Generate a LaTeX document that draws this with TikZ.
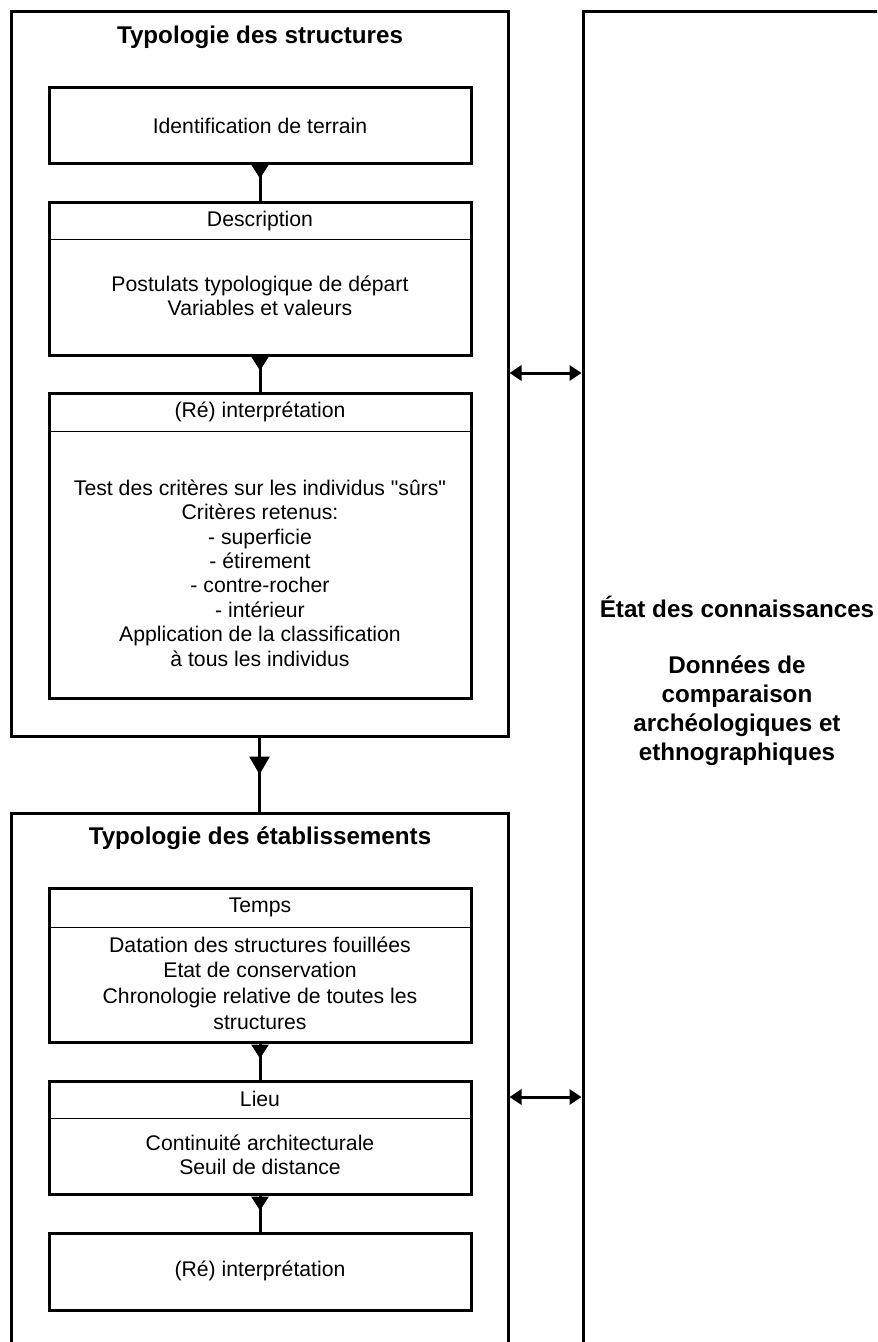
\documentclass[tikz,border=0pt]{standalone}
\usepackage{fontspec}
\setmainfont{Liberation Sans}
\usetikzlibrary{arrows.meta,fit}
\begin{document}
\begin{tikzpicture}[x=0.5pt,y=-0.5pt,
  frame/.style={draw,line width=1.5pt,inner sep=0pt},
  sep/.style={line width=0.5pt},
  bodytxt/.style={align=center,inner sep=0pt,font=\fontsize{10.6pt}{12.2pt}\selectfont},
  titletxt/.style={align=center,inner sep=0pt,font=\fontsize{12.1pt}{14.5pt}\selectfont\bfseries},
  conn/.style={line width=1.5pt},
  downtip/.style={line width=1.5pt,-{Triangle[width=8.5pt,length=7pt]}},
  bigtip/.style={line width=1.5pt,-{Triangle[width=10pt,length=9pt]}},
  dbl/.style={line width=1.5pt,{Triangle[width=7.5pt,length=6pt]}-{Triangle[width=7.5pt,length=6pt]}}
]
\useasboundingbox (0,0) rectangle (877,1342);
\clip (0,0) rectangle (877,1342);

% outer frames
\node[frame,fit={(11,12) (508,736)}] (ts) {};
\node[frame,fit={(11,813) (508,1380)}] (te) {};
\node[frame,fit={(583,12) (920,1380)}] (panel) {};

% titles
\node[titletxt] (t1) at (260,37) {Typologie des structures};
\node[titletxt] (t2) at (260,838) {Typologie des établissements};

% inner boxes, first frame
\node[frame,fit={(49,88) (471,164)}] (ident) {};
\node[bodytxt] (identt) at (260,126) {Identification de terrain};

\node[frame,fit={(49,203) (471,355)}] (desc) {};
\draw[sep] (desc.west |- 0,240) -- (desc.east |- 0,240);
\node[bodytxt] (desch) at (260,221.5) {Description};
\node[bodytxt] (descb) at (260,296) {Postulats typologique de départ\\Variables et valeurs};

\node[frame,fit={(49,393) (471,698)}] (interp) {};
\draw[sep] (interp.west |- 0,431) -- (interp.east |- 0,431);
\node[bodytxt] (interph) at (260,412) {(Ré) interprétation};
\node[bodytxt] (interpb) at (260,573) {Test des critères sur les individus \textquotedbl sûrs\textquotedbl\\Critères retenus:\\- superficie\\- étirement\\- contre-rocher\\- intérieur\\Application de la classification\\à tous les individus};

% inner boxes, second frame
\node[frame,fit={(49,888) (471,1042)}] (temps) {};
\draw[sep] (temps.west |- 0,927) -- (temps.east |- 0,927);
\node[bodytxt] (tempsh) at (260,907) {Temps};
\node[bodytxt,font=\fontsize{10.6pt}{12.8pt}\selectfont] (tempsb) at (260,983) {Datation des structures fouillées\\Etat de conservation\\Chronologie relative de toutes les\\structures};

\node[frame,fit={(49,1081) (471,1194)}] (lieu) {};
\draw[sep] (lieu.west |- 0,1118) -- (lieu.east |- 0,1118);
\node[bodytxt] (lieuh) at (260,1099) {Lieu};
\node[bodytxt] (lieub) at (260,1155) {Continuité architecturale\\Seuil de distance};

\node[frame,fit={(49,1233) (471,1310)}] (reint) {};
\node[bodytxt] (reintt) at (260,1271) {(Ré) interprétation};

% right panel text
\node[titletxt] (etat) at (737,607) {État des connaissances};
\node[titletxt] (donnees) at (737,711) {Données de\\comparaison\\archéologiques et\\ethnographiques};

% connectors
\draw[conn] (ident) -- (desc);
\draw[downtip] (ident.south) -- ++(0,13);
\draw[conn] (desc) -- (interp);
\draw[downtip] (desc.south) -- ++(0,14);
\draw[conn] (ts.south) -- (te.north);
\draw[bigtip] (ts.south) -- ++(0,37);
\draw[conn] (temps) -- (lieu);
\draw[downtip] (temps.south) -- ++(0,15);
\draw[conn] (lieu) -- (reint);
\draw[downtip] (lieu.south) -- ++(0,15);

\coordinate (ya) at (0,373);
\coordinate (yb) at (0,1097);
\draw[dbl] (ts.east |- ya) -- (panel.west |- ya);
\draw[dbl] (te.east |- yb) -- (panel.west |- yb);
\end{tikzpicture}
\end{document}
